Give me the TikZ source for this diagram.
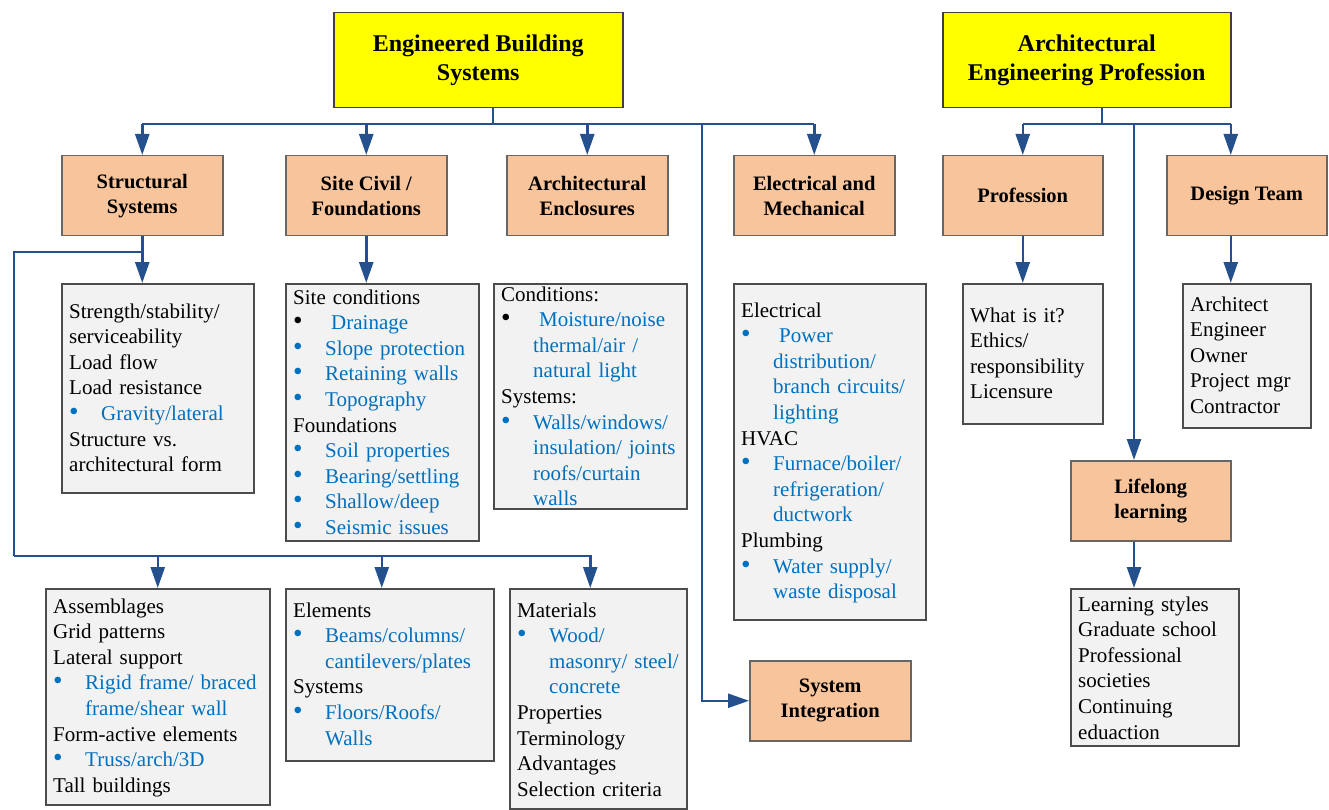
\documentclass[tikz,border=0pt]{standalone}
\usepackage{fontspec}
\setmainfont{Liberation Serif}
\usetikzlibrary{arrows.meta}

\definecolor{headyellow}{HTML}{FFFF00}
\definecolor{catorange}{HTML}{F8C49C}
\definecolor{listgray}{HTML}{F2F2F2}
\definecolor{linkblue}{HTML}{24508E}
\definecolor{itemblue}{HTML}{0070C0}

\newcommand{\entry}[1]{\noindent #1\par}
\newcommand{\point}[2][itemblue]{\hangindent=32pt\hangafter=1\noindent\makebox[32pt][l]{\textcolor{#1}{\scalebox{1.3}{\textbullet}}}\textcolor{itemblue}{#2}\par}

\begin{document}
\begin{tikzpicture}[x=1pt,y=-1pt]
        \tikzstyle{every node}=[inner sep=0pt]
        \tikzstyle{headbox}=[draw=black!75, line width=1.5pt, fill=headyellow, anchor=north west, minimum width=289pt, minimum height=95pt, align=center, font=\fontsize{24}{29}\selectfont\bfseries]
        \tikzstyle{catbox}=[draw=black!60, line width=1.5pt, fill=catorange, anchor=north west, minimum width=161pt, minimum height=80pt, align=center, font=\fontsize{20.5}{25}\selectfont\bfseries]
        \tikzstyle{listbox}=[draw=black!70, line width=1.5pt, fill=listgray, anchor=north west]
        \tikzstyle{listtext}=[anchor=base west, align=left, text width=230pt, font=\fontsize{21}{25.6}\selectfont]
        \tikzstyle{link}=[draw=linkblue, line width=2.5pt]
        \tikzstyle{arrowlink}=[link, -{Triangle[width=14pt,length=21pt]}]
        \useasboundingbox (0,0) rectangle (1329,810);

        % headings
        \node[headbox] (ebs) at (333,12) {Engineered Building\\Systems};
        \node[headbox, minimum width=288pt] (aep) at (942,12) {Architectural\\Engineering Profession};

        % topic boxes
        \node[catbox] (ss) at (61,155) {Structural\\Systems};
        \node[catbox] (sc) at (285,155) {Site Civil /\\Foundations};
        \node[catbox] (ae) at (506,155) {Architectural\\Enclosures};
        \node[catbox] (em) at (733,155) {Electrical and\\Mechanical};
        \node[catbox, minimum width=160pt] (pr) at (942,155) {Profession};
        \node[catbox, minimum width=160pt] (dt) at (1166,155) {Design Team};
        \node[catbox] (si) at (749,660) {System\\Integration};
        \node[catbox, minimum width=160pt] (ll) at (1070,460) {Lifelong\\learning};

        % lists
        \node[listbox, minimum width=192pt, minimum height=209pt] (stlist) at (61,283) {};
        \node[listtext] (sttext) at ([shift={(8,35)}]stlist.north west) {%
            \entry{Strength/stability/}\entry{serviceability}\entry{Load flow}\entry{Load resistance}%
            \point{Gravity/lateral}\entry{Structure vs.}\entry{architectural form}};

        \node[listbox, minimum width=193pt, minimum height=257pt] (sclist) at (285,283) {};
        \node[listtext] (sctext) at ([shift={(8,21)}]sclist.north west) {%
            \entry{Site conditions}\point[black]{\hspace{6pt}Drainage}\point{Slope protection}%
            \point{Retaining walls}\point{Topography}\entry{Foundations}\point{Soil properties}%
            \point{Bearing/settling}\point{Shallow/deep}\point{Seismic issues}};

        \node[listbox, minimum width=193pt, minimum height=225pt] (aelist) at (493,283) {};
        \node[listtext] (aetext) at ([shift={(8,18)}]aelist.north west) {%
            \entry{Conditions:}\point[black]{\hspace{6pt}Moisture/noise\newline thermal/air /\newline natural light}%
            \entry{Systems:}\point{Walls/windows/\newline insulation/ joints\newline roofs/curtain\newline walls}};

        \node[listbox, minimum width=192pt, minimum height=336pt] (emlist) at (733,283) {};
        \node[listtext] (emtext) at ([shift={(8,34)}]emlist.north west) {%
            \entry{Electrical}\point{\hspace{6pt}Power\newline distribution/\newline branch circuits/\newline lighting}%
            \entry{HVAC}\point{Furnace/boiler/\newline refrigeration/\newline ductwork}%
            \entry{Plumbing}\point{Water supply/\newline waste disposal}};

        \node[listbox, minimum width=140pt, minimum height=140pt] (prlist) at (962,283) {};
        \node[listtext] (prtext) at ([shift={(8,39)}]prlist.north west) {%
            \entry{What is it?}\entry{Ethics/}\entry{responsibility}\entry{Licensure}};

        \node[listbox, minimum width=128pt, minimum height=144pt] (dtlist) at (1182,283) {};
        \node[listtext] (dttext) at ([shift={(8,28)}]dtlist.north west) {%
            \entry{Architect}\entry{Engineer}\entry{Owner}\entry{Project mgr}\entry{Contractor}};

        \node[listbox, minimum width=168pt, minimum height=157pt] (lllist) at (1070,588) {};
        \node[listtext] (lltext) at ([shift={(8,23)}]lllist.north west) {%
            \entry{Learning styles}\entry{Graduate school}\entry{Professional}\entry{societies}%
            \entry{Continuing}\entry{eduaction}};

        \node[listbox, minimum width=224pt, minimum height=216pt] (asmlist) at (45,588) {};
        \node[listtext] (asmtext) at ([shift={(8,25)}]asmlist.north west) {%
            \entry{Assemblages}\entry{Grid patterns}\entry{Lateral support}%
            \point{Rigid frame/ braced\newline frame/shear wall}\entry{Form-active elements}%
            \point{Truss/arch/3D}\entry{Tall buildings}};

        \node[listbox, minimum width=208pt, minimum height=172pt] (elmlist) at (285,588) {};
        \node[listtext] (elmtext) at ([shift={(8,29)}]elmlist.north west) {%
            \entry{Elements}\point{Beams/columns/\newline cantilevers/plates}%
            \entry{Systems}\point{Floors/Roofs/\newline Walls}};

        \node[listbox, minimum width=177pt, minimum height=220pt] (matlist) at (509,588) {};
        \node[listtext] (mattext) at ([shift={(8,29)}]matlist.north west) {%
            \entry{Materials}\point{Wood/\newline masonry/ steel/\newline concrete}%
            \entry{Properties}\entry{Terminology}\entry{Advantages}\entry{Selection criteria}};

        % connectors
        \coordinate (ebsbus) at (493,124);
        \coordinate (intbus) at (702,124);
        \coordinate (aepbus) at (1102,124);
        \coordinate (lifebus) at (1134,124);
        \coordinate (ssjoin) at (142,252);
        \coordinate (lowbus) at (14,556);

        \draw[link] (ebsbus |- ebs.south) -- (ebsbus);
        \draw[link] (ss.north |- ebsbus) -- (em.north |- ebsbus);
        \foreach \c in {ss,sc,ae,em}
            \draw[arrowlink] (\c.north |- ebsbus) -- (\c.north);
        \draw[arrowlink] (intbus) |- (si.west);

        \draw[link] (aepbus |- aep.south) -- (aepbus);
        \draw[link] (pr.north |- aepbus) -- ([xshift=-16pt]dt.north |- aepbus);
        \draw[arrowlink] (pr.north |- aepbus) -- (pr.north);
        \draw[arrowlink] ([xshift=-16pt]dt.north |- aepbus) -- ([xshift=-16pt]dt.north);
        \draw[arrowlink] (lifebus) -- (lifebus |- ll.north);

        \draw[arrowlink] (ss.south) -- (ss.south |- stlist.north);
        \draw[arrowlink] (sc.south) -- (sc.south |- sclist.north);
        \draw[arrowlink] (pr.south) -- (pr.south |- prlist.north);
        \draw[arrowlink] ([xshift=-16pt]dt.south) -- ([xshift=-16pt]dt.south |- dtlist.north);
        \draw[arrowlink] (lifebus |- ll.south) -- (lifebus |- lllist.north);

        \draw[link] (ssjoin) -| (lowbus);
        \draw[arrowlink] (lowbus) -| (asmlist.north);
        \draw[arrowlink] (lowbus) -| ([xshift=-8pt]elmlist.north);
        \draw[arrowlink] (lowbus) -| ([xshift=-8pt]matlist.north);
\end{tikzpicture}
\end{document}
